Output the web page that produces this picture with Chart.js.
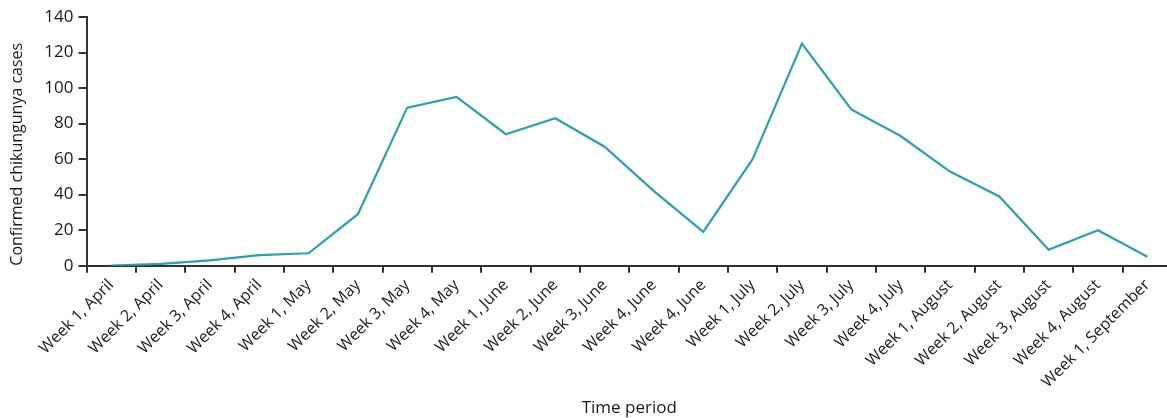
<!DOCTYPE html>
<html>
<head>
<meta charset="utf-8">
<script src="https://cdn.jsdelivr.net/npm/chart.js@4"></script>
<style>
  html, body { margin: 0; padding: 0; background: #fff; overflow: hidden; }
  #wrap { width: 1172px; height: 418px; }
</style>
</head>
<body>
<div id="wrap"><canvas id="c" width="1172" height="418"></canvas></div>
<script>
const categories = [
  'Week 1, April', 'Week 2, April', 'Week 3, April', 'Week 4, April',
  'Week 1, May', 'Week 2, May', 'Week 3, May', 'Week 4, May',
  'Week 1, June', 'Week 2, June', 'Week 3, June', 'Week 4, June', 'Week 4, June',
  'Week 1, July', 'Week 2, July', 'Week 3, July', 'Week 4, July',
  'Week 1, August', 'Week 2, August', 'Week 3, August', 'Week 4, August',
  'Week 1, September'
];
const cases = [0, 1, 3, 6, 7, 29, 89, 95, 74, 83, 67, 42, 19, 60, 125, 88, 73, 53, 39, 9, 20, 5];
const yTicks = [0, 20, 40, 60, 80, 100, 120, 140];
const yTitle = 'Confirmed chikungunya cases';
const xTitle = 'Time period';

const FONT = '"Open Sans", "DejaVu Sans", sans-serif';
const INK = '#1a1a1a';
const AXIS = '#333';

new Chart(document.getElementById('c'), {
  type: 'line',
  data: {
    labels: categories,
    datasets: [{
      data: cases,
      borderColor: '#25a2b7',
      borderWidth: 2.2,
      pointRadius: 0,
      tension: 0,
      fill: false
    }]
  },
  options: {
    responsive: false,
    animation: false,
    devicePixelRatio: 1,
    layout: { padding: { top: 17, right: 0, left: 0, bottom: 0 } },
    plugins: { legend: { display: false }, tooltip: { enabled: false } },
    scales: {
      x: {
        offset: true,
        grid: {
          display: true, offset: true, drawOnChartArea: false, drawTicks: true,
          tickLength: 7, color: AXIS, lineWidth: 2
        },
        border: { display: true, color: AXIS, width: 2 },
        ticks: {
          autoSkip: false, maxRotation: 45, minRotation: 45, padding: 3,
          color: INK, font: { family: FONT, size: 16 }
        },
        title: {
          display: true, text: xTitle, color: INK,
          font: { family: FONT, size: 17 }, padding: { top: 0, bottom: 0 }
        },
        afterFit: (s) => { s.height = 418 - 265.7; }
      },
      y: {
        min: 0, max: 140,
        afterBuildTicks: (s) => { s.ticks = yTicks.map(v => ({ value: v })); },
        grid: {
          display: true, drawOnChartArea: false, drawTicks: true,
          tickLength: 8, color: AXIS, lineWidth: 2
        },
        border: { display: true, color: AXIS, width: 2 },
        ticks: { padding: 5, color: INK, font: { family: FONT, size: 17 } },
        title: {
          display: true, text: yTitle, color: INK, align: 'start',
          font: { family: FONT, size: 16 }, padding: { top: 8, bottom: 0 }
        },
        afterFit: (s) => { s.width = 86.5; }
      }
    }
  }
});
</script>
</body>
</html>
